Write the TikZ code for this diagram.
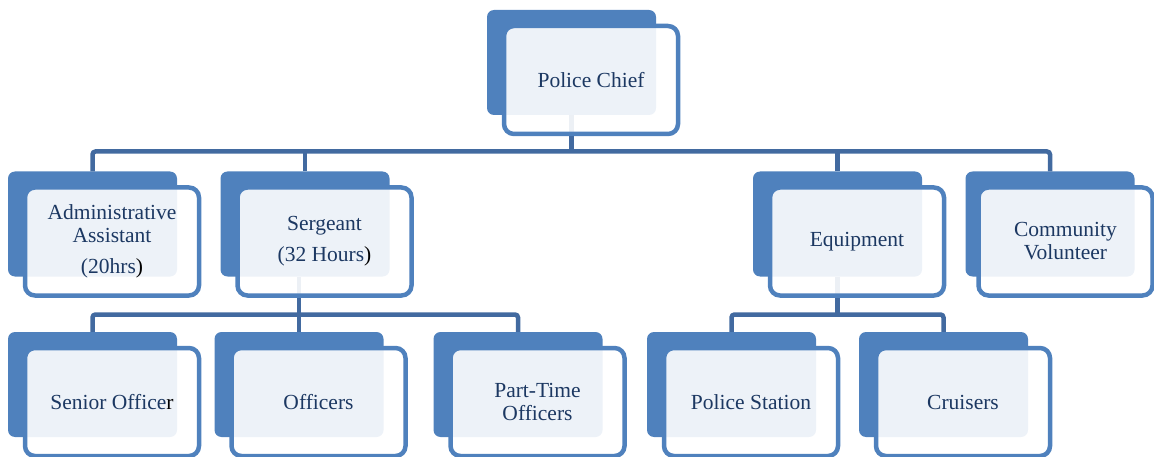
\documentclass[tikz,border=0pt]{standalone}
\usepackage{fontspec}
\setmainfont{Liberation Serif}
\usepackage{tikz}
\usetikzlibrary{positioning}

\definecolor{boxblue}{RGB}{79,129,189}
\definecolor{linkblue}{RGB}{66,106,160}
\definecolor{textblue}{RGB}{28,56,98}

\begin{document}
\begin{tikzpicture}[x=1pt, y=-1pt,
  backbox/.style={fill=boxblue, rounded corners=7pt, minimum width=169pt,
    minimum height=105pt, inner sep=0pt},
  frontbox/.style={draw=boxblue, line width=4.5pt, fill=white, fill opacity=0.9,
    text opacity=1, rounded corners=10pt, minimum width=174pt, minimum height=108pt,
    inner sep=0pt, align=center, text=textblue,
    font=\fontsize{21.5}{23}\selectfont},
  link/.style={draw=linkblue, line width=4.5pt, rounded corners=3pt}]
  \useasboundingbox (0,0) rectangle (1154,457);

  \node[backbox] (chief_b) at (571.5,62.5) {};
  \node[backbox] (admin_b) at (92.5,224) {};
  \node[backbox] (sergeant_b) at (305,224) {};
  \node[backbox] (equipment_b) at (837.5,224) {};
  \node[backbox] (community_b) at (1050,224) {};
  \node[backbox] (senior_b) at (92.5,384.5) {};
  \node[backbox] (officers_b) at (299,384.5) {};
  \node[backbox] (parttime_b) at (518,384.5) {};
  \node[backbox] (station_b) at (731.5,384.5) {};
  \node[backbox] (cruisers_b) at (943.5,384.5) {};

  \coordinate (bus_1) at (571.5,151.5);
  \coordinate (bus_2) at (299,314.5);
  \coordinate (bus_3) at (837.5,314.5);

  \draw[link] (chief_b.south) -- (bus_1);
  \draw[link] (admin_b.north) |- (bus_1) -| (community_b.north);
  \draw[link] (sergeant_b.north) -- (sergeant_b.north |- bus_1);
  \draw[link] (equipment_b.north) -- (equipment_b.north |- bus_1);
  \draw[link] (officers_b.north) -- (officers_b.north |- sergeant_b.south);
  \draw[link] (senior_b.north) |- (bus_2) -| (parttime_b.north);
  \draw[link] (equipment_b.south) -- (bus_3);
  \draw[link] (station_b.north) |- (bus_3) -| (cruisers_b.north);

  \node[frontbox] (chief) at (591,80) {Police Chief};
  \node[frontbox] (admin) at (112,241.5)
    {Administrative\\Assistant\\[8pt](20hrs\textcolor{black}{)}};
  \node[frontbox] (sergeant) at (324.5,241.5)
    {Sergeant\\[8pt](32 Hours\textcolor{black}{)}};
  \node[frontbox] (equipment) at (857,241.5) {Equipment};
  \node[frontbox] (community) at (1065.5,241.5) {Community\\Volunteer};
  \node[frontbox] (senior) at (112,402) {Senior Office\textcolor{black}{r}};
  \node[frontbox] (officers) at (318.5,402) {Officers};
  \node[frontbox] (parttime) at (537.5,402) {Part-Time\\Officers};
  \node[frontbox] (station) at (751,402) {Police Station};
  \node[frontbox] (cruisers) at (963,402) {Cruisers};
\end{tikzpicture}
\end{document}
